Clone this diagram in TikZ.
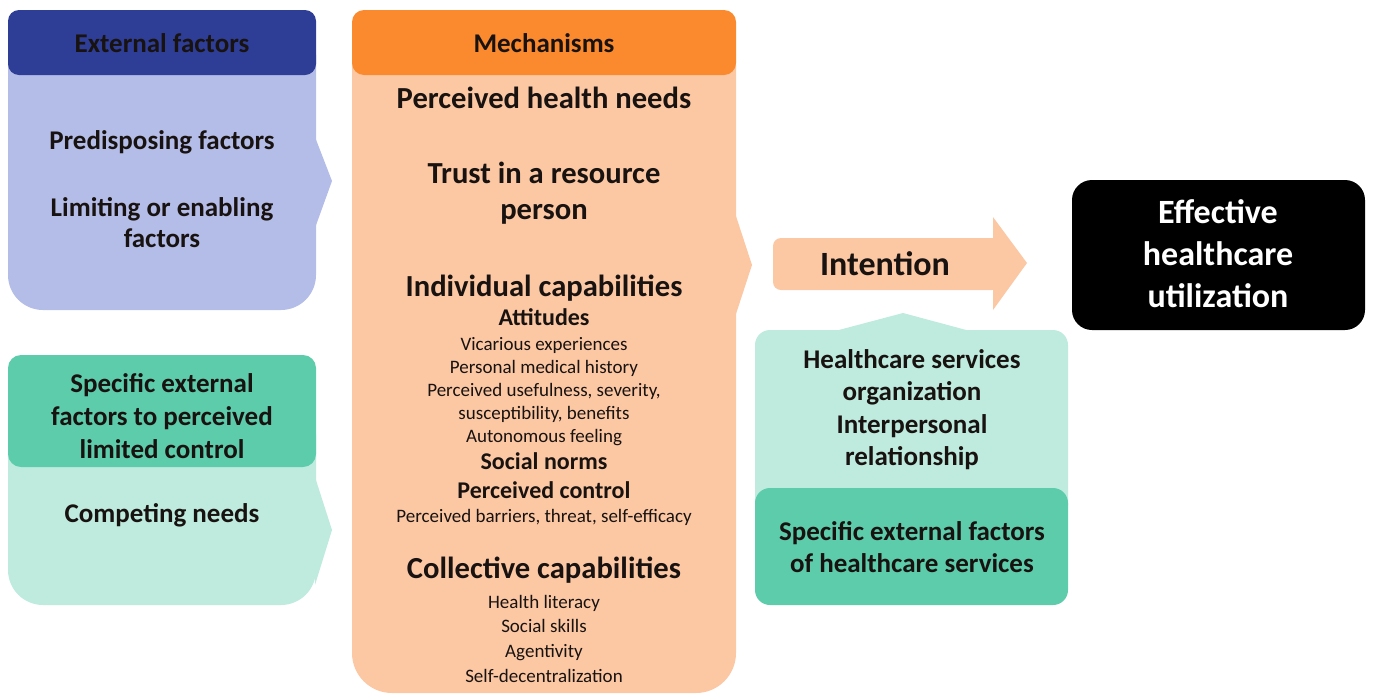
\documentclass[tikz,border=0pt]{standalone}
\usepackage{fontspec}
\setmainfont{Carlito}
\definecolor{headblue}{RGB}{46,62,150}
\definecolor{lightblue}{RGB}{180,188,232}
\definecolor{headorange}{RGB}{250,138,45}
\definecolor{peach}{RGB}{252,200,164}
\definecolor{darkteal}{RGB}{92,204,171}
\definecolor{mint}{RGB}{190,235,222}
\definecolor{ink}{RGB}{24,18,16}
\newcommand{\fs}[1]{\fontsize{#1}{#1}\selectfont}
\tikzset{
  txt/.style={anchor=base, inner sep=0pt, text=ink, font=\bfseries\fs{27}},
  head/.style={txt, font=\bfseries\fs{27}},
  big/.style={txt, font=\bfseries\fs{30.6}},
  mid/.style={txt, font=\bfseries\fs{24}},
  small/.style={txt, font=\fs{19}},
  white/.style={txt, text=white, font=\bfseries\fs{34}},
}
\begin{document}
\begin{tikzpicture}[x=1pt,y=-1pt]
\useasboundingbox (0,0) rectangle (1373,694);
% ---------- External factors ----------
\fill[lightblue, rounded corners=35pt] (8,20) rectangle (316,310);
\fill[lightblue] (315,137) -- (332,181) -- (315,228) -- cycle;
\fill[headblue, rounded corners=11pt] (8,10) rectangle (316,75);
\node[head] (ef) at (162,52) {External factors};
\node[txt] (pf) at (162,149) {Predisposing factors};
\node[txt] (le1) at (162,216) {Limiting or enabling};
\node[txt] (le2) at (162,247) {factors};
% ---------- Specific external factors (left) ----------
\fill[mint, rounded corners=35pt] (8,400) rectangle (316,605);
\fill[mint] (315,477) -- (332,530) -- (315,585) -- cycle;
\fill[darkteal, rounded corners=13pt] (8,355) rectangle (316,467);
\node[txt] (se1) at (162,392) {Specific external};
\node[txt] (se2) at (162,425) {factors to perceived};
\node[txt] (se3) at (162,458) {limited control};
\node[txt] (cn) at (162,522) {Competing needs};
% ---------- Mechanisms ----------
\fill[peach, rounded corners=40pt] (352,25) rectangle (736,693);
\fill[peach] (735,213) -- (752,265) -- (735,317) -- cycle;
\fill[headorange, rounded corners=12pt] (352,10) rectangle (736,75);
\node[head] (mh) at (544,52) {Mechanisms};
\node[big] (m1) at (544,108) {Perceived health needs};
\node[big] (m2) at (544,183) {Trust in a resource};
\node[big] (m3) at (544,219) {person};
\node[big] (m4) at (544,296) {Individual capabilities};
\node[mid] (m5) at (544,325) {Attitudes};
\node[small] (m6) at (544,350) {Vicarious experiences};
\node[small] (m7) at (544,373) {Personal medical history};
\node[small] (m8) at (544,396) {Perceived usefulness, severity,};
\node[small] (m9) at (544,419) {susceptibility, benefits};
\node[small] (m10) at (544,442) {Autonomous feeling};
\node[mid] (m11) at (544,469) {Social norms};
\node[mid] (m12) at (544,498) {Perceived control};
\node[small] (m13) at (544,522) {Perceived barriers, threat, self-efficacy};
\node[big] (m14) at (544,578) {Collective capabilities};
\node[small] (m15) at (544,608) {Health literacy};
\node[small] (m16) at (544,632) {Social skills};
\node[small] (m17) at (544,657) {Agentivity};
\node[small] (m18) at (544,682) {Self-decentralization};
% ---------- Intention arrow ----------
\fill[peach, rounded corners=8pt] (773,238) rectangle (1000,290);
\fill[peach] (993,217) -- (1027,263) -- (993,310) -- cycle;
\node[txt, font=\bfseries\fs{34}] (int) at (885,275) {Intention};
% ---------- Healthcare services ----------
\fill[mint, rounded corners=15pt] (755,330) rectangle (1068,520);
\fill[mint] (835,331) -- (903,313) -- (970,331) -- cycle;
\fill[darkteal, rounded corners=15pt] (755,488) rectangle (1068,605);
\node[txt] (hs1) at (912,368) {Healthcare services};
\node[txt] (hs2) at (912,400) {organization};
\node[txt] (hs3) at (912,433) {Interpersonal};
\node[txt] (hs4) at (912,465) {relationship};
\node[txt] (hs5) at (912,540) {Specific external factors};
\node[txt] (hs6) at (912,572) {of healthcare services};
% ---------- Effective healthcare utilization ----------
\fill[black, rounded corners=20pt] (1072,180) rectangle (1365,330);
\node[white] (e1) at (1218,223) {Effective};
\node[white] (e2) at (1218,265) {healthcare};
\node[white] (e3) at (1218,307) {utilization};
\end{tikzpicture}
\end{document}
